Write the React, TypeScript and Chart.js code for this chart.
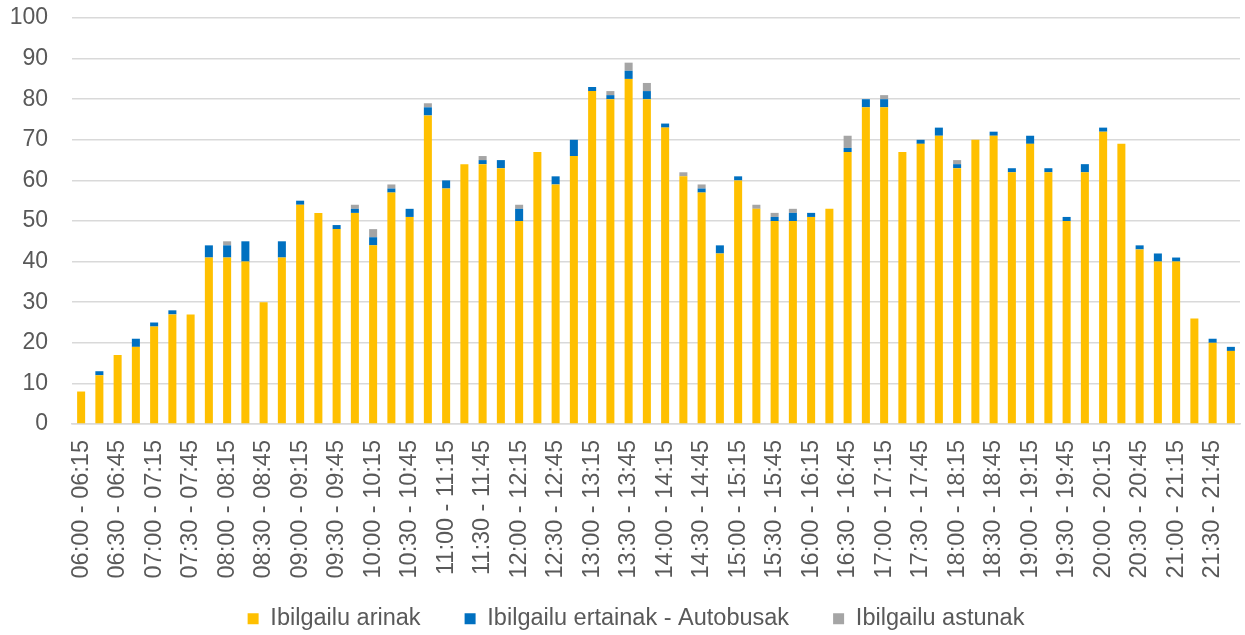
import React, { useEffect, useRef } from "react";
import { Chart, registerables } from "chart.js";

Chart.register(...registerables);

const categories: string[] = [
  "06:00 - 06:15", "06:15 - 06:30", "06:30 - 06:45", "06:45 - 07:00",
  "07:00 - 07:15", "07:15 - 07:30", "07:30 - 07:45", "07:45 - 08:00",
  "08:00 - 08:15", "08:15 - 08:30", "08:30 - 08:45", "08:45 - 09:00",
  "09:00 - 09:15", "09:15 - 09:30", "09:30 - 09:45", "09:45 - 10:00",
  "10:00 - 10:15", "10:15 - 10:30", "10:30 - 10:45", "10:45 - 11:00",
  "11:00 - 11:15", "11:15 - 11:30", "11:30 - 11:45", "11:45 - 12:00",
  "12:00 - 12:15", "12:15 - 12:30", "12:30 - 12:45", "12:45 - 13:00",
  "13:00 - 13:15", "13:15 - 13:30", "13:30 - 13:45", "13:45 - 14:00",
  "14:00 - 14:15", "14:15 - 14:30", "14:30 - 14:45", "14:45 - 15:00",
  "15:00 - 15:15", "15:15 - 15:30", "15:30 - 15:45", "15:45 - 16:00",
  "16:00 - 16:15", "16:15 - 16:30", "16:30 - 16:45", "16:45 - 17:00",
  "17:00 - 17:15", "17:15 - 17:30", "17:30 - 17:45", "17:45 - 18:00",
  "18:00 - 18:15", "18:15 - 18:30", "18:30 - 18:45", "18:45 - 19:00",
  "19:00 - 19:15", "19:15 - 19:30", "19:30 - 19:45", "19:45 - 20:00",
  "20:00 - 20:15", "20:15 - 20:30", "20:30 - 20:45", "20:45 - 21:00",
  "21:00 - 21:15", "21:15 - 21:30", "21:30 - 21:45", "21:45 - 22:00",
];

const arinak: number[] = [
  8, 12, 17, 19, 24, 27, 27, 41, 41, 40,
  30, 41, 54, 52, 48, 52, 44, 57, 51, 76,
  58, 64, 64, 63, 50, 67, 59, 66, 82, 80,
  85, 80, 73, 61, 57, 42, 60, 53, 50, 50,
  51, 53, 67, 78, 78, 67, 69, 71, 63, 70,
  71, 62, 69, 62, 50, 62, 72, 69, 43, 40,
  40, 26, 20, 18,
];

const ertainak: number[] = [
  0, 1, 0, 2, 1, 1, 0, 3, 3, 5,
  0, 4, 1, 0, 1, 1, 2, 1, 2, 2,
  2, 0, 1, 2, 3, 0, 2, 4, 1, 1,
  2, 2, 1, 0, 1, 2, 1, 0, 1, 2,
  1, 0, 1, 2, 2, 0, 1, 2, 1, 0,
  1, 1, 2, 1, 1, 2, 1, 0, 1, 2,
  1, 0, 1, 1,
];

const astunak: number[] = [
  0, 0, 0, 0, 0, 0, 0, 0, 1, 0,
  0, 0, 0, 0, 0, 1, 2, 1, 0, 1,
  0, 0, 1, 0, 1, 0, 0, 0, 0, 1,
  2, 2, 0, 1, 1, 0, 0, 1, 1, 1,
  0, 0, 3, 0, 1, 0, 0, 0, 1, 0,
  0, 0, 0, 0, 0, 0, 0, 0, 0, 0,
  0, 0, 0, 0,
];

const seriesNames = ["Ibilgailu arinak", "Ibilgailu ertainak - Autobusak", "Ibilgailu astunak"];
const seriesColors = ["#FFC000", "#0070C0", "#A5A5A5"];
const yTicks = { min: 0, max: 100, step: 10 };

const FONT = "'Liberation Sans', Arial, sans-serif";
const TEXT = "#595959";
const GRID = "#D9D9D9";
const LEGEND_H = 55;
const LEGEND_PAD = 44;
const LEGEND_CENTER_Y = 619;
const LEGEND_SHIFT = 12;

export default function App() {
  const ref = useRef<HTMLCanvasElement | null>(null);

  useEffect(() => {
    if (!ref.current) return;
    const legendFit = {
      id: "legendFit",
      beforeInit(chart: any) {
        const legend = chart.legend;
        if (!legend) return;
        const orig = legend.fit;
        legend.fit = function () {
          orig.call(this);
          this.height = LEGEND_H;
        };
      },
      afterLayout(chart: any) {
        const legend = chart.legend;
        if (legend) {
          legend.left += LEGEND_SHIFT;
          legend.right += LEGEND_SHIFT;
          legend.top = LEGEND_CENTER_Y - LEGEND_PAD - 12;
          legend.bottom = chart.height;
          legend.height = legend.bottom - legend.top;
        }
      },
    };
    const values = [arinak, ertainak, astunak];
    const chart = new Chart(ref.current, {
      type: "bar",
      data: {
        labels: categories,
        datasets: seriesNames.map((name, i) => ({
          label: name,
          data: values[i],
          backgroundColor: seriesColors[i],
          borderWidth: 0,
          categoryPercentage: 1,
          barPercentage: 0.44,
        })),
      },
      options: {
        responsive: false,
        animation: false,
        layout: { padding: { left: 8, right: 5, top: 18, bottom: 0 } },
        plugins: {
          tooltip: { enabled: false },
          legend: {
            position: "bottom",
            labels: {
              boxWidth: 11,
              boxHeight: 11,
              padding: LEGEND_PAD,
              color: TEXT,
              font: { family: FONT, size: 23.5 },
            },
          },
        },
        scales: {
          x: {
            stacked: true,
            grid: { display: false, drawTicks: false, tickLength: 0 },
            border: { display: true, color: GRID, width: 1.5 },
            afterFit: (scale: any) => {
              scale.paddingLeft = 0;
              scale.paddingRight = 0;
              scale.height = 156;
            },
            ticks: {
              autoSkip: false,
              minRotation: 90,
              maxRotation: 90,
              padding: 16,
              color: TEXT,
              font: { family: FONT, size: 23.5 },
              callback: function (this: any, value: any, index: number) {
                return index % 2 === 0 ? categories[index] : "";
              },
            },
          },
          y: {
            stacked: true,
            min: yTicks.min,
            max: yTicks.max,
            grid: { color: GRID, lineWidth: 1.5, drawTicks: false, tickLength: 0 },
            border: { display: false },
            afterFit: (scale: any) => {
              scale.width = 64;
              scale.paddingTop = 0;
              scale.paddingBottom = 0;
            },
            ticks: {
              stepSize: yTicks.step,
              padding: 24,
              color: TEXT,
              font: { family: FONT, size: 23 },
            },
          },
        },
      },
      plugins: [legendFit],
    } as any);
    return () => chart.destroy();
  }, []);

  return (
    <div style={{ position: "fixed", left: 0, top: 0, width: 1245, height: 635, background: "#fff" }}>
      <canvas ref={ref} width={1245} height={635} style={{ display: "block" }} />
    </div>
  );
}
